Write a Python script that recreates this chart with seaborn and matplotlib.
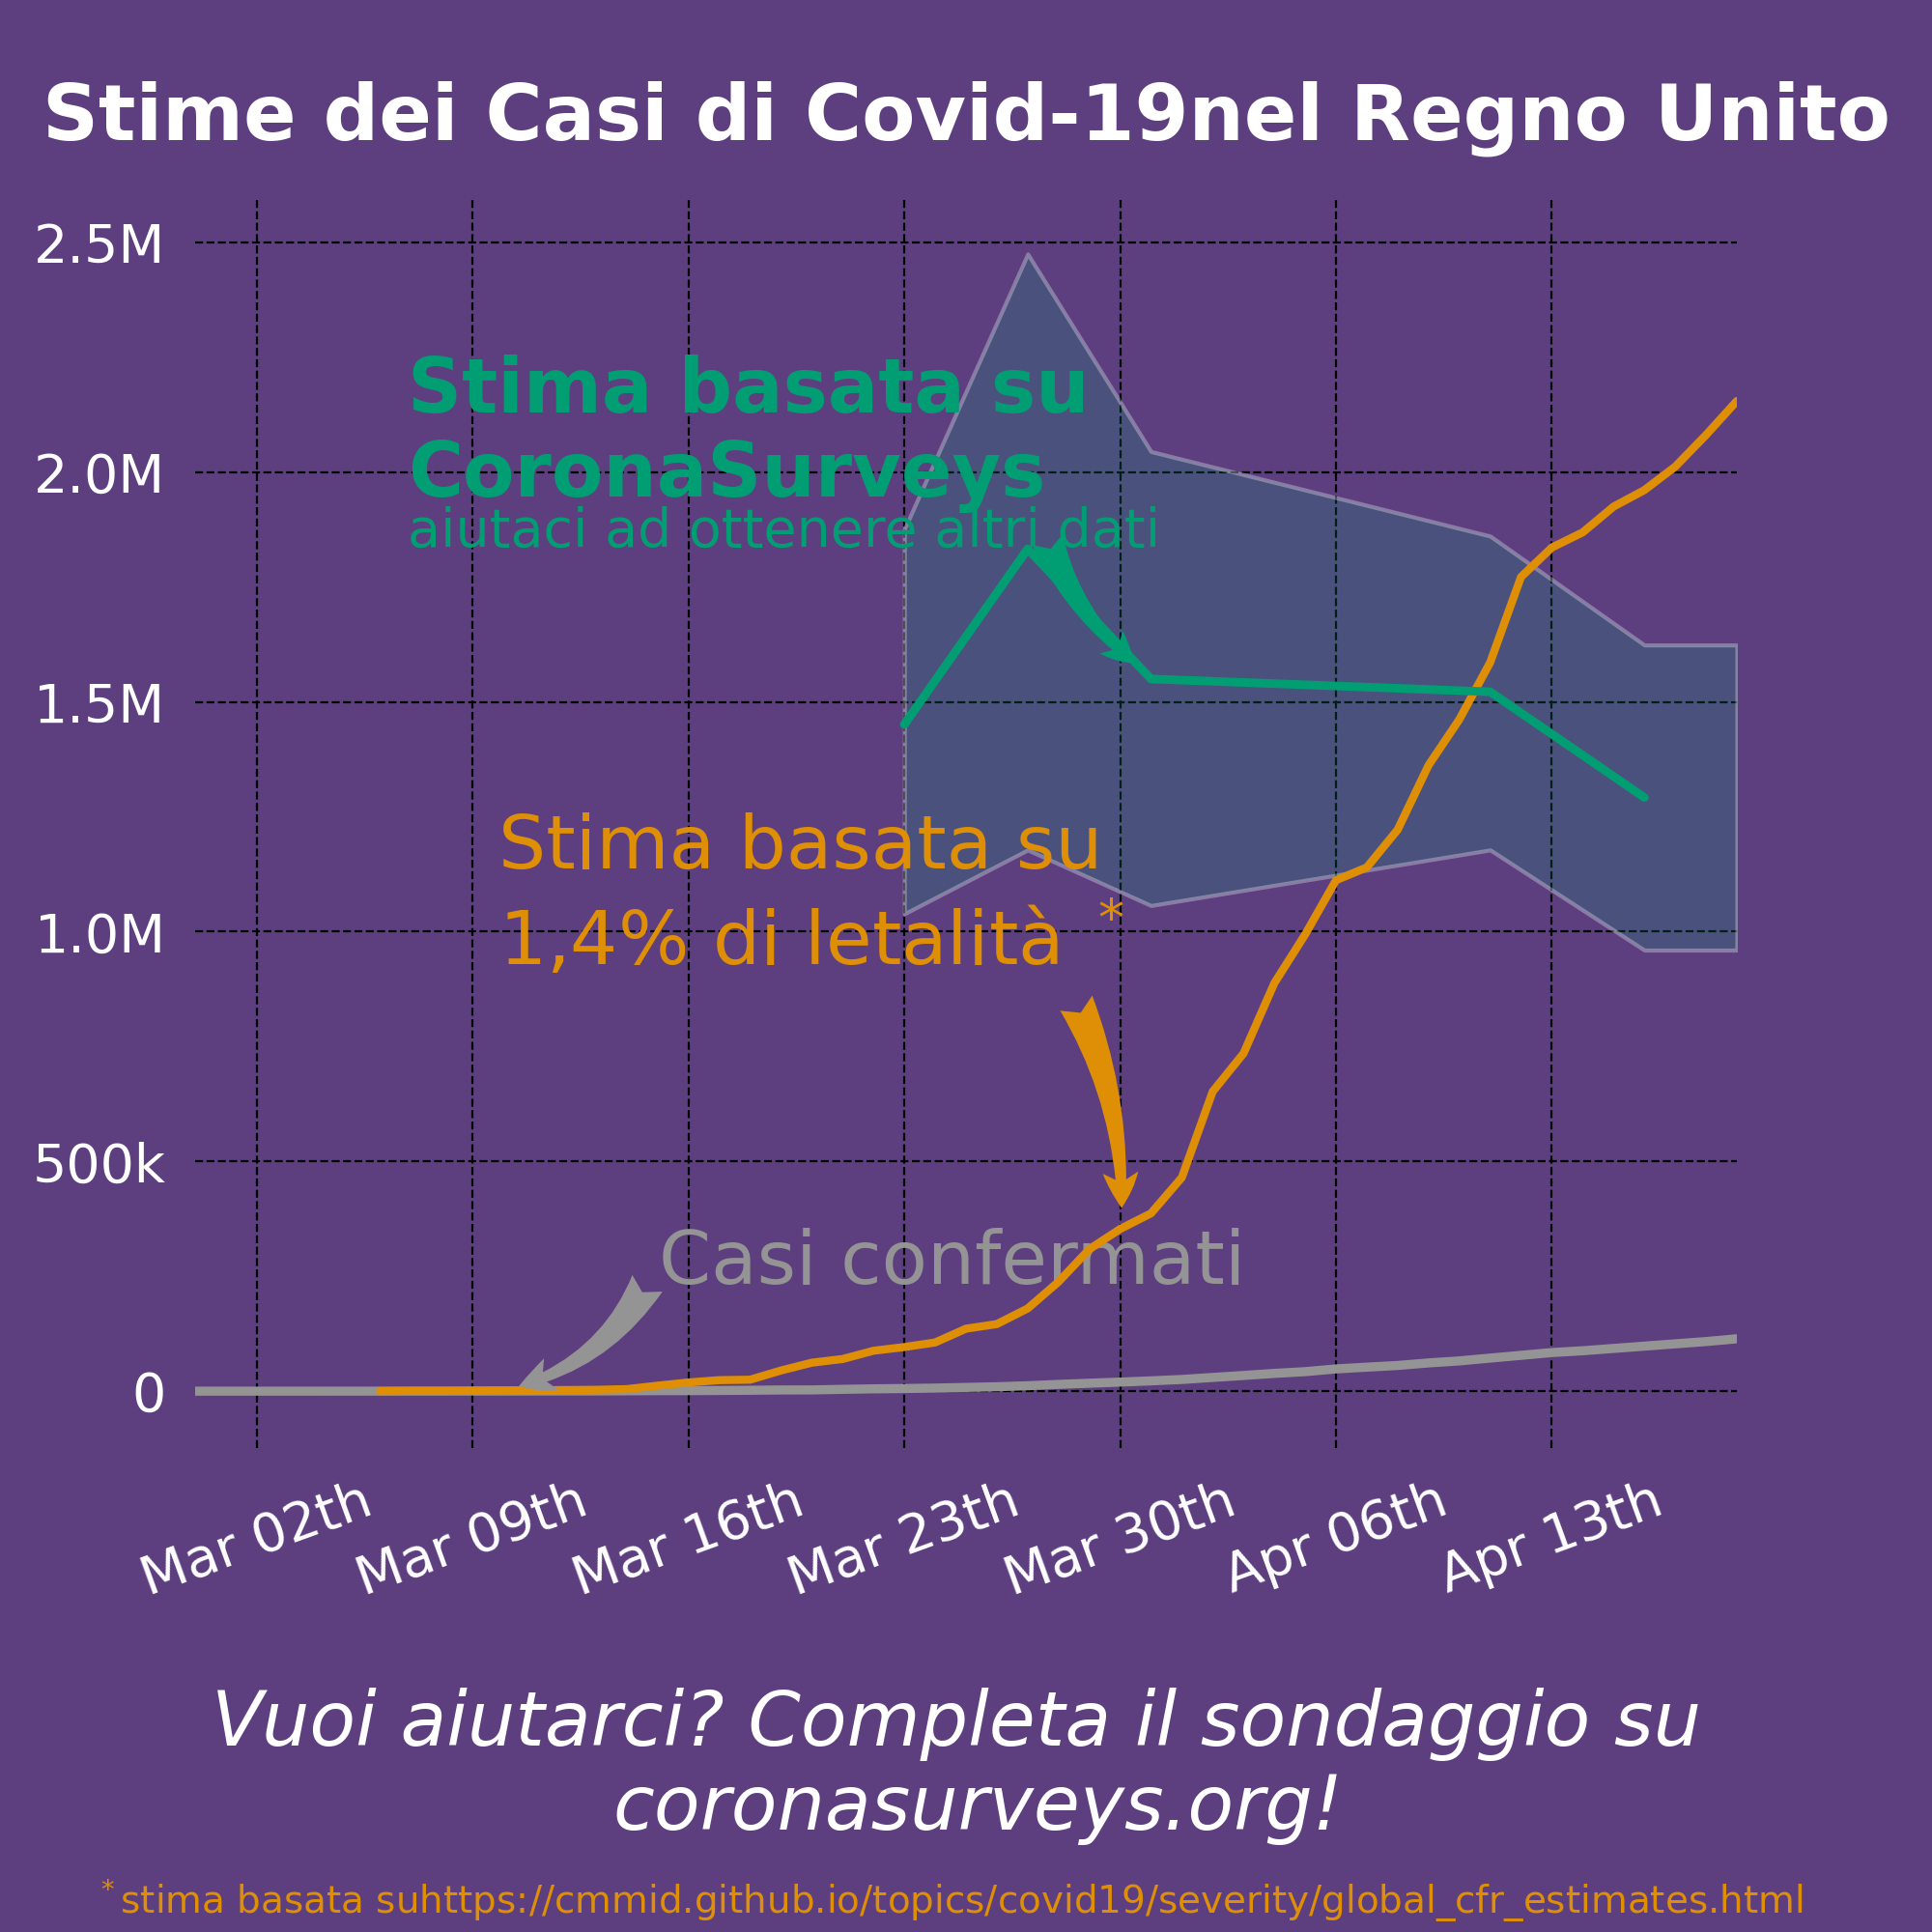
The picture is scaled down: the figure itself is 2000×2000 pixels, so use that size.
import numpy as np
import pandas as pd
import matplotlib
matplotlib.use("Agg")
import matplotlib.pyplot as plt
import matplotlib.dates as mdates
import matplotlib.ticker as mticker
import seaborn as sns

# colori
BG = "#5d3f80"
ORANGE = "#de8f05"
GREEN = "#029e73"
GRAY = "#949494"

# casi confermati (dal 29 febbraio, giornalieri)
confirmed_start = "2020-02-29"
confirmed = [20, 23, 36, 40, 51, 86, 116, 164, 207, 274, 322, 384, 459, 459,
             802, 1144, 1145, 1551, 1960, 2642, 2716, 4014, 5067, 5745, 6726,
             8164, 9640, 11812, 14745, 17312, 19780, 22453, 25481, 29865,
             34173, 38689, 42477, 48436, 52279, 55949, 61474, 65872, 72000,
             78000, 84000, 88000, 93000, 98000, 103000, 108000, 114000]

# stima con letalita' 1,4% (dal 6 marzo, giornaliera)
cfr_start = "2020-03-06"
cfr_estimate = [0, 500, 500, 1000, 1500, 2000, 2500, 3000, 4500, 12000, 19000,
                24000, 25000, 45000, 62000, 70000, 88000, 96000, 106000,
                136000, 146000, 180000, 238000, 309000, 353000, 387000,
                465000, 652000, 735000, 888000, 994000, 1112000, 1140000,
                1222000, 1362000, 1462000, 1586000, 1772000, 1836000,
                1869000, 1925000, 1961000, 2012000, 2081000, 2155000]

# stima CoronaSurveys
survey_dates = ["2020-03-23", "2020-03-27", "2020-03-31", "2020-04-11",
                "2020-04-16"]
survey_estimate = [1451000, 1833000, 1550000, 1522000, 1292000]
band_dates = ["2020-03-23", "2020-03-27", "2020-03-31", "2020-04-11",
              "2020-04-16", "2020-04-19"]
band_low = [1039000, 1178000, 1057000, 1178000, 960000, 960000]
band_high = [1876000, 2475000, 2045000, 1861000, 1624000, 1624000]


def fmt_cases(v, pos):
    if v == 0:
        return "0"
    if v < 1e6:
        return "%dk" % (v / 1000)
    return "%.1fM" % (v / 1e6)


sns.set_theme(style="whitegrid")
plt.rcParams["font.family"] = ["DejaVu Sans"]

fig, ax = plt.subplots(figsize=(10, 10), dpi=200)
fig.patch.set_facecolor(BG)
ax.set_facecolor(BG)
ax.set_position([0.101, 0.2505, 0.798, 0.6475])

df_conf = pd.DataFrame({"data": pd.date_range(confirmed_start,
                                              periods=len(confirmed)),
                        "casi": confirmed})
df_cfr = pd.DataFrame({"data": pd.date_range(cfr_start,
                                             periods=len(cfr_estimate)),
                       "casi": cfr_estimate})
df_survey = pd.DataFrame({"data": pd.to_datetime(survey_dates),
                          "casi": survey_estimate})

# banda di confidenza
green_rgb = matplotlib.colors.to_rgb(GREEN)
ax.fill_between(pd.to_datetime(band_dates), band_low, band_high,
                facecolor=(*green_rgb, 0.2), edgecolor=(1, 1, 1, 0.3),
                lw=1.5, zorder=2)
sns.lineplot(data=df_conf, x="data", y="casi", color=GRAY, lw=3.4, ax=ax,
             zorder=3)
sns.lineplot(data=df_cfr, x="data", y="casi", color=ORANGE, lw=3.0, ax=ax,
             zorder=4)
sns.lineplot(data=df_survey, x="data", y="casi", color=GREEN, lw=3.2, ax=ax,
             zorder=4)

# assi
top = max(band_high)
ax.set_xlim(df_conf["data"].iloc[0], df_conf["data"].iloc[-1])
ax.set_ylim(-0.05 * top, 1.05 * top)
ax.set_xlabel("")
ax.set_ylabel("")
ax.xaxis.set_major_locator(mdates.WeekdayLocator(byweekday=mdates.MO))
ax.xaxis.set_major_formatter(mdates.DateFormatter("%b %dth"))
ax.yaxis.set_major_locator(mticker.MultipleLocator(500000))
ax.yaxis.set_major_formatter(mticker.FuncFormatter(fmt_cases))
ax.tick_params(axis="both", colors="white", labelsize=20, length=0)
ax.tick_params(axis="y", pad=11)
ax.tick_params(axis="x", pad=10)
plt.setp(ax.get_xticklabels(), rotation=20, ha="center")
ax.grid(True, color="black", ls="--", lw=0.8)
ax.set_axisbelow(True)
for s in ax.spines.values():
    s.set_visible(False)

# testi nel grafico
ax.text(0.138, 0.828, "Stima basata su", transform=ax.transAxes,
        color=GREEN, fontsize=28, fontweight="bold")
ax.text(0.138, 0.761, "CoronaSurveys", transform=ax.transAxes,
        color=GREEN, fontsize=28, fontweight="bold")
ax.text(0.138, 0.721, "aiutaci ad ottenere altri dati", transform=ax.transAxes,
        color=GREEN, fontsize=20)
ax.text(0.197, 0.463, "Stima basata su", transform=ax.transAxes,
        color=ORANGE, fontsize=27.9)
ax.text(0.197, 0.386, "1,4% di letalità $^*$", transform=ax.transAxes,
        color=ORANGE, fontsize=27.9)
ax.text(0.301, 0.131, "Casi confermati", transform=ax.transAxes,
        color=GRAY, fontsize=27.9)

# frecce
d = mdates.date2num
ax.annotate("", xy=(d(pd.Timestamp("2020-03-30 15:00")), 1576000),
            xytext=(d(pd.Timestamp("2020-03-27 14:00")), 1864000),
            arrowprops=dict(arrowstyle="fancy", color=GREEN, lw=0,
                            connectionstyle="arc3,rad=0.15",
                            mutation_scale=30), zorder=6)
ax.annotate("", xy=(d(pd.Timestamp("2020-03-30 01:00")), 387000),
            xytext=(d(pd.Timestamp("2020-03-28 12:00")), 855000),
            arrowprops=dict(arrowstyle="fancy", color=ORANGE, lw=0,
                            connectionstyle="arc3,rad=-0.12",
                            mutation_scale=33), zorder=6)
ax.annotate("", xy=(d(pd.Timestamp("2020-03-10 08:00")), 8000),
            xytext=(d(pd.Timestamp("2020-03-14 18:00")), 245000),
            arrowprops=dict(arrowstyle="fancy", color=GRAY, lw=0,
                            connectionstyle="arc3,rad=-0.22",
                            mutation_scale=32), zorder=6)

# titolo e note
fig.text(0.5, 0.928, "Stime dei Casi di Covid-19nel Regno Unito",
         ha="center", fontsize=29, fontweight="bold", color="white")
fig.text(0.495, 0.0965, "Vuoi aiutarci? Completa il sondaggio su",
         ha="center", fontsize=28.1, style="italic", color="white")
fig.text(0.506, 0.053, "coronasurveys.org!",
         ha="center", fontsize=28.1, style="italic", color="white")
fig.text(0.0497, 0.010,
         "$^*$stima basata su"
         "https://cmmid.github.io/topics/covid19/severity/global_cfr_estimates.html",
         fontsize=14, color=ORANGE)

fig.savefig("out.png", dpi=200, facecolor=BG)
